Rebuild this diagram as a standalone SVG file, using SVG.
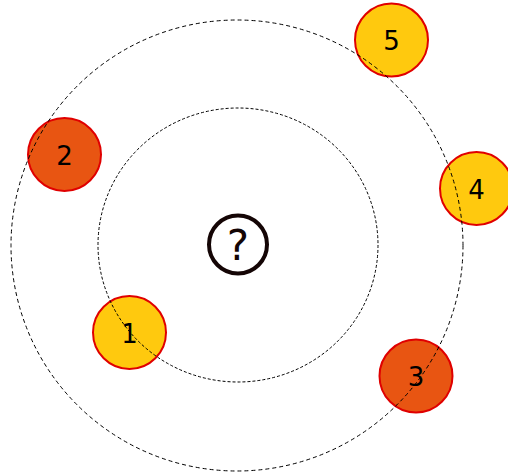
<svg xmlns="http://www.w3.org/2000/svg" width="508" height="475" viewBox="0 0 508 475">
<style>
.node circle{stroke:#e00000;stroke-width:2}
.y{fill:#ffc90e}
.o{fill:#e85512}
.lbl{font-family:"DejaVu Sans",sans-serif;font-size:26px;fill:#000;text-anchor:middle;dominant-baseline:central}
.orbit{fill:none;stroke:#000;stroke-width:1}
</style>
<rect width="508" height="475" fill="#fff"/>
<g id="node-5" class="node"><circle class="y" cx="391.5" cy="40" r="36.5"/><text class="lbl" x="391.5" y="41">5</text></g>
<g id="node-2" class="node"><circle class="o" cx="64.5" cy="154.5" r="36.5"/><text class="lbl" x="64.5" y="155.5">2</text></g>
<g id="node-4" class="node"><circle class="y" cx="476.5" cy="188.5" r="36.5"/><text class="lbl" x="476.5" y="189.5">4</text></g>
<g id="node-1" class="node"><circle class="y" cx="129.5" cy="332.5" r="36.5"/><text class="lbl" x="129.5" y="333.5">1</text></g>
<g id="node-3" class="node"><circle class="o" cx="416" cy="376" r="36.5"/><text class="lbl" x="416" y="377">3</text></g>
<g id="node-center"><circle cx="238" cy="244.5" r="29" fill="#fff" stroke="#140505" stroke-width="4"/><text x="238" y="245.5" font-family="DejaVu Sans,sans-serif" font-size="42" fill="#140505" text-anchor="middle" dominant-baseline="central">?</text></g>
<g id="connectors">
<ellipse class="orbit" cx="237" cy="245.5" rx="226" ry="225.5" stroke-dasharray="4 3"/>
<ellipse class="orbit" cx="238" cy="245" rx="140" ry="137" stroke-dasharray="3 2"/>
</g>
</svg>
